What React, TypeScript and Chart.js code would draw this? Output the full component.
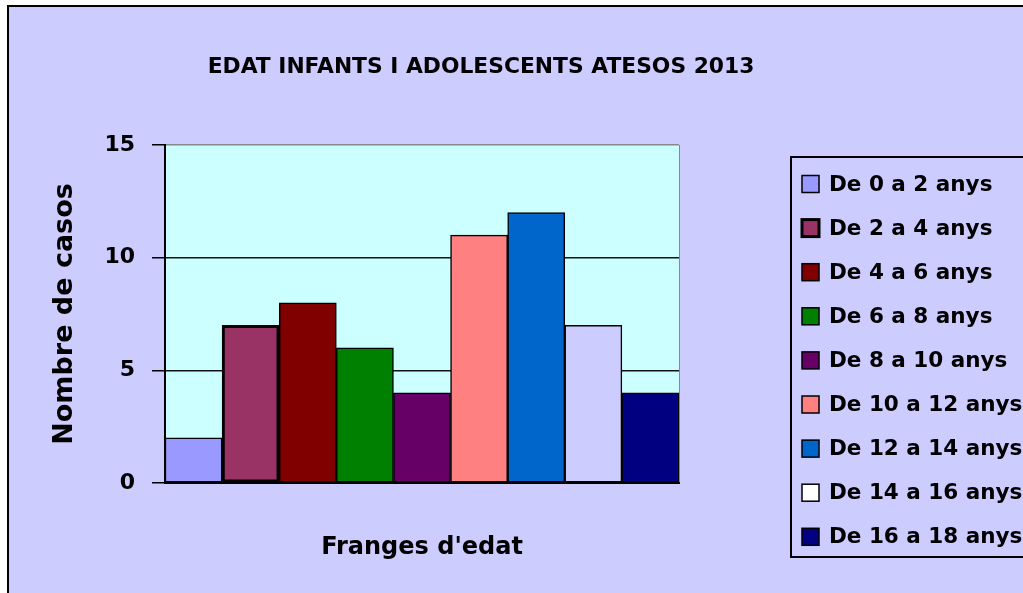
import React, { useEffect, useRef } from 'react';
import { Chart, registerables } from 'chart.js';

Chart.register(...registerables);

const CATEGORIES = ['2013'];
const SERIES_LABELS = [
  'De 0 a 2 anys',
  'De 2 a 4 anys',
  'De 4 a 6 anys',
  'De 6 a 8 anys',
  'De 8 a 10 anys',
  'De 10 a 12 anys',
  'De 12 a 14 anys',
  'De 14 a 16 anys',
  'De 16 a 18 anys',
];
const SERIES_VALUES = [2, 7, 8, 6, 4, 11, 12, 7, 4];
const SERIES_COLORS = ['#9999FF', '#993366', '#800000', '#008000', '#660066', '#FF8080', '#0066CC', '#CCCCFF', '#000080'];
const LEGEND_SWATCHES = ['#9999FF', '#993366', '#800000', '#008000', '#660066', '#FF8080', '#0066CC', '#FFFFFF', '#000080'];
const BORDER_WIDTHS = [1.5, 3, 1.5, 1.5, 1.5, 1.5, 1.5, 1.5, 1.5];
const Y_TICKS = [0, 5, 10, 15];
const TITLE = 'EDAT INFANTS I ADOLESCENTS ATESOS 2013';
const X_TITLE = "Franges d'edat";
const Y_TITLE = 'Nombre de casos';

const FONT = '"DejaVu Sans", "Liberation Sans", sans-serif';

const decor = {
  id: 'decor',
  beforeDraw(chart: any) {
    const { ctx, width, height, chartArea: a } = chart;
    ctx.save();
    ctx.fillStyle = '#FFFFFF';
    ctx.fillRect(0, 0, width, height);
    ctx.fillStyle = '#CCCCFF';
    ctx.fillRect(7, 5, width, height);
    ctx.strokeStyle = '#000000';
    ctx.lineWidth = 2;
    ctx.beginPath();
    ctx.moveTo(8, height + 5);
    ctx.lineTo(8, 6);
    ctx.lineTo(width + 5, 6);
    ctx.stroke();
    ctx.fillStyle = '#CCFFFF';
    ctx.fillRect(a.left, a.top, a.right - a.left, a.bottom - a.top);
    ctx.restore();
  },
  afterDraw(chart: any) {
    const { ctx } = chart;
    ctx.save();
    // title
    ctx.fillStyle = '#000000';
    ctx.font = `bold 21.8px ${FONT}`;
    ctx.textAlign = 'center';
    ctx.textBaseline = 'middle';
    ctx.fillText(TITLE, 481, 67);
    // legend box
    ctx.strokeStyle = '#000000';
    ctx.lineWidth = 2;
    ctx.strokeRect(791, 157, 300, 400);
    ctx.font = `bold 21.5px ${FONT}`;
    ctx.textAlign = 'left';
    chart.data.datasets.forEach((ds: any, i: number) => {
      const yc = 184 + i * 44.1;
      ctx.fillStyle = LEGEND_SWATCHES[i];
      ctx.fillRect(802, yc - 8.5, 17, 17);
      ctx.lineWidth = i === 1 ? 3 : 1.5;
      ctx.strokeStyle = '#000000';
      ctx.strokeRect(802, yc - 8.5, 17, 17);
      ctx.fillStyle = '#000000';
      ctx.fillText(ds.label, 829, yc + 1);
    });
    ctx.restore();
  },
};

export default function App() {
  const ref = useRef<HTMLCanvasElement | null>(null);

  useEffect(() => {
    if (!ref.current) return;
    const chart = new Chart(ref.current, {
      type: 'bar',
      data: {
        labels: CATEGORIES,
        datasets: SERIES_LABELS.map((label, i) => ({
          label,
          data: [SERIES_VALUES[i]],
          backgroundColor: SERIES_COLORS[i],
          borderColor: '#000000',
          borderWidth: BORDER_WIDTHS[i],
          borderSkipped: false,
          categoryPercentage: 1,
          barPercentage: 1,
        })),
      },
      options: {
        animation: false,
        responsive: false,
        devicePixelRatio: 1,
        layout: { padding: { left: 0, right: 344, top: 145, bottom: 0 } },
        plugins: {
          legend: { display: false },
          title: { display: false },
          tooltip: { enabled: false },
        },
        scales: {
          x: {
            ticks: { display: false },
            grid: { display: true, color: '#888888', lineWidth: 1, drawTicks: false, offset: true },
            border: { display: true, color: '#000000', width: 2 },
            title: {
              display: true,
              text: X_TITLE,
              color: '#000000',
              font: { family: FONT, size: 24, weight: 'bold' },
              padding: { top: 0, bottom: 31 },
            },
            afterFit(scale: any) {
              scale.height = 110;
            },
          },
          y: {
            min: 0,
            max: 15,
            afterBuildTicks(scale: any) {
              scale.ticks = Y_TICKS.map((v) => ({ value: v }));
            },
            ticks: {
              color: '#000000',
              padding: 17,
              font: { family: FONT, size: 22, weight: 'bold' },
            },
            grid: {
              color: (c: any) => (c.tick && c.tick.value === 15 ? '#888888' : '#111111'),
              tickColor: '#000000',
              lineWidth: 1.5,
              tickLength: 13,
            },
            border: { display: true, color: '#000000', width: 2 },
            title: {
              display: true,
              text: Y_TITLE,
              color: '#000000',
              font: { family: FONT, size: 27, weight: 'bold' },
              padding: { top: 49, bottom: 0 },
            },
            afterFit(scale: any) {
              scale.width = 165;
            },
          },
        },
      },
      plugins: [decor],
    } as any);
    return () => chart.destroy();
  }, []);

  return (
    <div style={{ position: 'absolute', left: 0, top: 0, width: 1023, height: 593, overflow: 'hidden' }}>
      <canvas ref={ref} width={1023} height={593} style={{ display: 'block' }} />
    </div>
  );
}
